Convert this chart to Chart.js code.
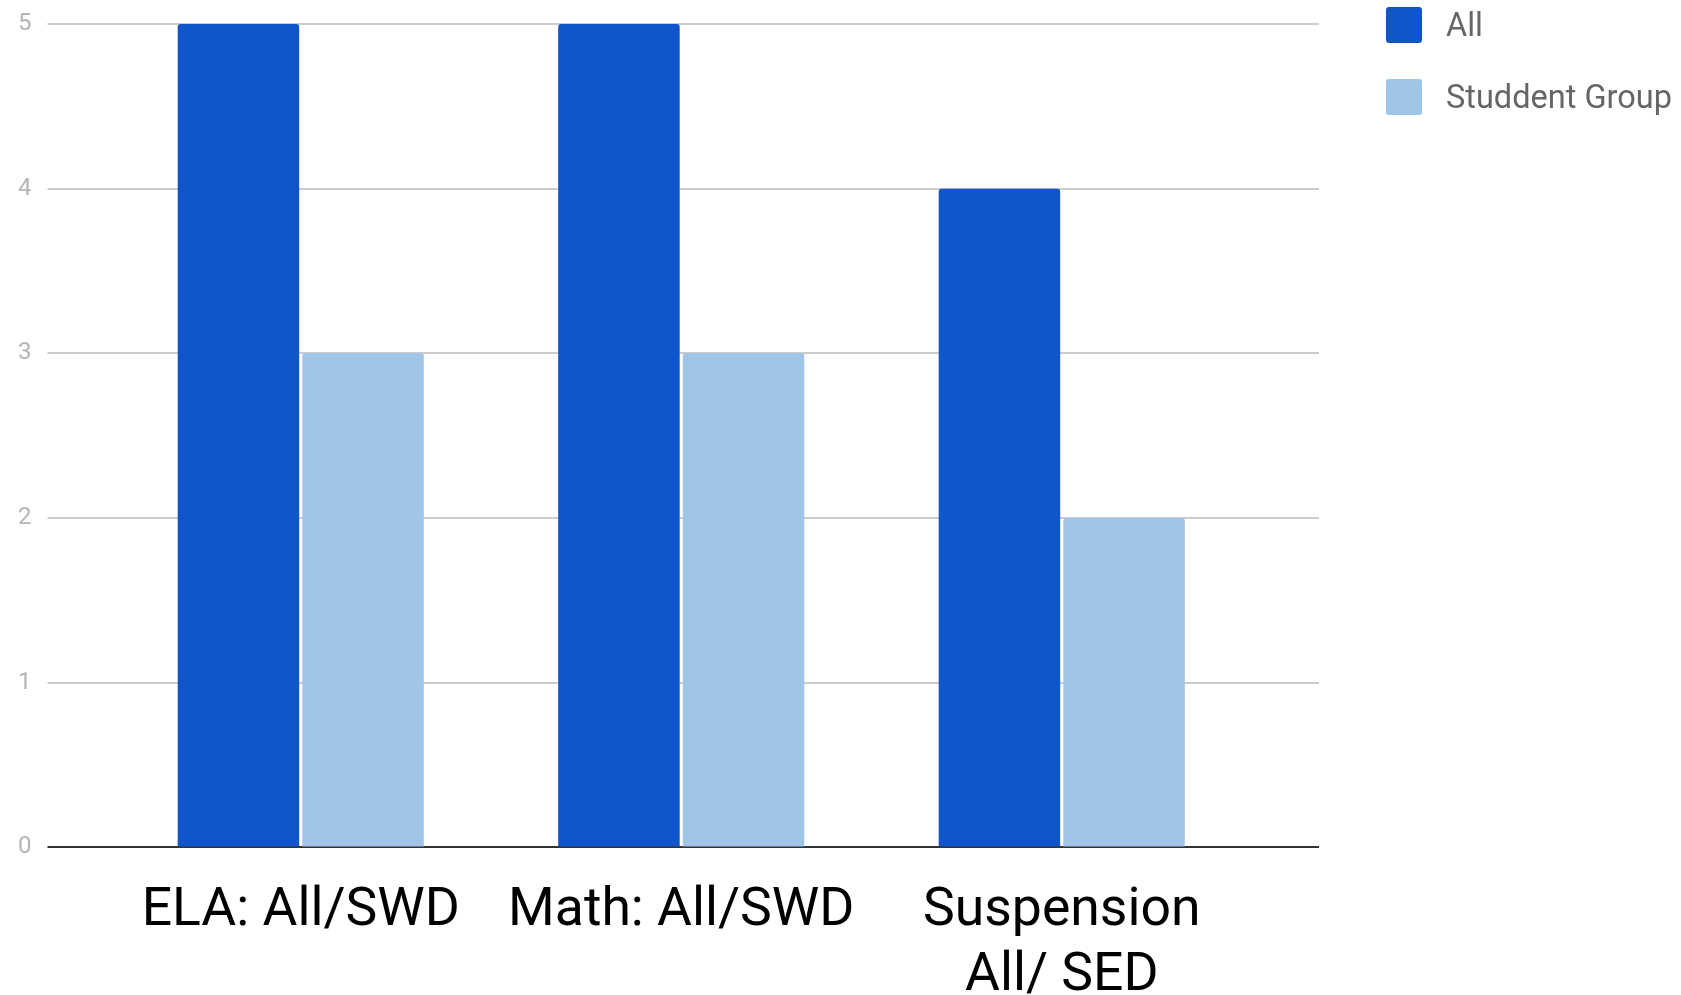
<!DOCTYPE html>
<html>
<head>
<meta charset="utf-8">
<script src="https://cdn.jsdelivr.net/npm/chart.js@4.4.1/dist/chart.umd.min.js"></script>
<style>
    html, body { margin: 0; padding: 0; background: #ffffff; overflow: hidden; }
    #wrap { position: relative; width: 1681px; height: 995px; overflow: hidden; }
    #box { position: absolute; left: 0; top: 0; width: 1681px; height: 1033px; }
    #legend { position: absolute; left: 1386px; top: 7px; font-family: Roboto, sans-serif; }
    .item { display: flex; align-items: center; height: 36px; margin-bottom: 36px; }
    .swatch { width: 36px; height: 36px; border-radius: 3px; margin-right: 24px; }
    .label { font-size: 32.5px; color: #666666; white-space: nowrap; }
</style>
</head>
<body>
<div id="wrap">
    <div id="box"><canvas id="chart"></canvas></div>
    <div id="legend"></div>
</div>
<script>
const categories = ['ELA: All/SWD', 'Math: All/SWD', ['Suspension', 'All/ SED']];
const seriesNames = ['All', 'Studdent Group'];
const allValues = [5, 5, 4];
const groupValues = [3, 3, 2];
const seriesColors = ['#1155cc', '#9fc5e8'];
const yMin = 0;
const yMax = 5;
const yStep = 1;

// zero line is dark, the rest light grey
const gridColor = function (c) {
    return c.tick && c.tick.value === 0 ? '#333333' : '#cccccc';
};

const datasets = [allValues, groupValues].map(function (values, i) {
    return {
        label: seriesNames[i],
        data: values,
        backgroundColor: seriesColors[i],
        borderWidth: 0,
        borderRadius: 3,
        categoryPercentage: 0.655,
        barPercentage: 0.975
    };
});

const chart = new Chart(document.getElementById('chart'), {
    type: 'bar',
    data: { labels: categories, datasets: datasets },
    options: {
        responsive: true,
        maintainAspectRatio: false,
        animation: false,
        layout: { padding: { left: 2, top: 24, right: 362, bottom: 0 } },
        plugins: { legend: { display: false }, tooltip: { enabled: false } },
        scales: {
            x: {
                grid: { display: false },
                border: { display: false },
                ticks: {
                    color: '#000000',
                    font: { family: 'Roboto', size: 53.5, lineHeight: 1.23 },
                    padding: 23,
                    maxRotation: 0,
                    autoSkip: false
                }
            },
            y: {
                min: yMin,
                max: yMax,
                ticks: {
                    stepSize: yStep,
                    color: '#b5b5b5',
                    font: { family: 'Roboto', size: 24, lineHeight: 0.6 },
                    padding: 16
                },
                grid: { color: gridColor, lineWidth: 2, tickLength: 63 },
                border: { display: false }
            },
            yRight: {
                position: 'right',
                display: true,
                min: yMin,
                max: yMax,
                ticks: { stepSize: yStep, display: false },
                grid: { color: gridColor, lineWidth: 2, tickLength: 67, drawOnChartArea: false },
                border: { display: false }
            }
        }
    }
});

// legend built from the datasets
const legendEl = document.getElementById('legend');
chart.data.datasets.forEach(function (ds) {
    const item = document.createElement('div');
    item.className = 'item';
    const sw = document.createElement('span');
    sw.className = 'swatch';
    sw.style.background = ds.backgroundColor;
    const txt = document.createElement('span');
    txt.className = 'label';
    txt.textContent = ds.label;
    item.appendChild(sw);
    item.appendChild(txt);
    legendEl.appendChild(item);
});
</script>
</body>
</html>
